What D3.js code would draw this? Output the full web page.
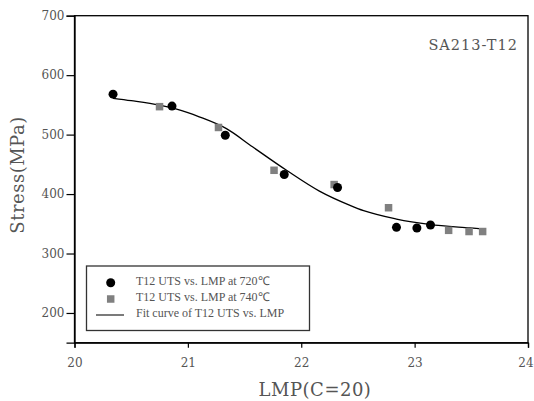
<!DOCTYPE html>
<html>
<head>
<meta charset="utf-8">
<script src="https://cdn.jsdelivr.net/npm/d3@7"></script>
<style>
  body { margin: 0; background: #fff; }
  svg { display: block; }
  .tick text { font-family: "DejaVu Serif", serif; font-size: 12px; fill: #555; }
</style>
</head>
<body>
<div id="chart"></div>
<script>
// data
const lmp720 = [20.34, 20.86, 21.33, 21.85, 22.32, 22.84, 23.02, 23.14];
const uts720 = [568, 548, 499, 433, 411, 344, 343, 348];
const lmp740 = [20.75, 21.27, 21.76, 22.29, 22.77, 23.30, 23.48, 23.60];
const uts740 = [547, 512, 440, 416, 377, 339, 337, 337];
const fitX = [20.34, 20.5, 20.75, 21.0, 21.1, 21.34, 21.57, 21.87, 22.16, 22.43, 22.55, 22.84, 23.13, 23.49, 23.62];
const fitY = [561, 557, 549.5, 537, 530, 510, 479.5, 440, 405, 381, 372, 358, 349, 343, 341];
const xTicks = [20, 21, 22, 23, 24];
const yTicks = [200, 300, 400, 500, 600, 700];
const legendLabels = ["T12 UTS vs. LMP at 720\u2103", "T12 UTS vs. LMP at 740\u2103", "Fit curve of T12 UTS vs. LMP"];

const width = 534, height = 401;
const area = { left: 74.5, right: 528, top: 15.7, bottom: 342.7 };

const svg = d3.select('#chart').append('svg')
    .attr('width', width)
    .attr('height', height);

const x = d3.scaleLinear().domain([20, 24]).range([area.left, area.right]);
const y = d3.scaleLinear().domain([150, 700]).range([area.bottom, area.top]);

// frame
svg.append('rect')
    .attr('x', area.left).attr('y', area.top)
    .attr('width', area.right - area.left).attr('height', area.bottom - area.top)
    .attr('fill', 'none').attr('stroke', '#000').attr('stroke-width', 1.3);

// axes
const xAxis = svg.append('g')
    .attr('transform', `translate(0,${area.bottom})`)
    .call(d3.axisBottom(x).tickValues(xTicks).tickSize(5).tickPadding(11).tickFormat(d3.format('d')));
const yAxis = svg.append('g')
    .attr('transform', `translate(${area.left},0)`)
    .call(d3.axisLeft(y).tickValues(yTicks).tickSize(8).tickPadding(2).tickFormat(d3.format('d')));

[xAxis, yAxis].forEach(g => {
    g.select('.domain').attr('stroke', '#000').attr('stroke-width', 1.3);
    g.selectAll('.tick line').attr('stroke', '#000').attr('stroke-width', 1.2);
});
// last label sits at the window edge; nudge it inside
xAxis.selectAll('.tick text').filter(d => d === 24).attr('dx', -2.5);

// axis titles
svg.append('text')
    .attr('transform', `translate(24,175) rotate(-90)`)
    .attr('text-anchor', 'middle')
    .style('font-family', '"DejaVu Serif", serif')
    .style('font-size', '18px')
    .style('letter-spacing', '0.5px')
    .attr('fill', '#555')
    .text('Stress(MPa)');

svg.append('text')
    .attr('x', 315).attr('y', 396)
    .attr('text-anchor', 'middle')
    .style('font-family', '"DejaVu Serif", serif')
    .style('font-size', '18px')
    .style('letter-spacing', '0.5px')
    .attr('fill', '#555')
    .text('LMP(C=20)');

svg.append('text')
    .attr('x', 518).attr('y', 50)
    .attr('text-anchor', 'end')
    .style('font-family', '"DejaVu Serif", serif')
    .style('font-size', '14.5px')
    .style('letter-spacing', '1px')
    .attr('fill', '#555')
    .text('SA213-T12');

// fit curve
const fit = fitX.map((d, i) => [d, fitY[i]]);
svg.append('path')
    .datum(fit)
    .attr('fill', 'none')
    .attr('stroke', '#000')
    .attr('stroke-width', 1.3)
    .attr('d', d3.line().x(d => x(d[0])).y(d => y(d[1])).curve(d3.curveMonotoneX));

// 740 squares
const sq = 7.5;
svg.append('g').selectAll('rect')
    .data(lmp740.map((d, i) => [d, uts740[i]]))
    .join('rect')
    .attr('x', d => x(d[0]) - sq / 2)
    .attr('y', d => y(d[1]) - sq / 2)
    .attr('width', sq).attr('height', sq)
    .attr('fill', '#808080');

// 720 circles
svg.append('g').selectAll('circle')
    .data(lmp720.map((d, i) => [d, uts720[i]]))
    .join('circle')
    .attr('cx', d => x(d[0]))
    .attr('cy', d => y(d[1]))
    .attr('r', 4.5)
    .attr('fill', '#000');

// legend
const lg = svg.append('g');
lg.append('rect')
    .attr('x', 86.5).attr('y', 266)
    .attr('width', 223).attr('height', 64.5)
    .attr('fill', '#fff').attr('stroke', '#333').attr('stroke-width', 1.3);
lg.append('circle').attr('cx', 110.7).attr('cy', 282.7).attr('r', 4.5).attr('fill', '#000');
lg.append('rect').attr('x', 110.7 - sq / 2).attr('y', 299 - sq / 2).attr('width', sq).attr('height', sq).attr('fill', '#808080');
lg.append('line').attr('x1', 96).attr('x2', 124).attr('y1', 315).attr('y2', 315)
    .attr('stroke', '#333').attr('stroke-width', 1.3);
lg.selectAll('text.lab')
    .data(legendLabels)
    .join('text')
    .attr('class', 'lab')
    .attr('x', 136)
    .attr('y', (d, i) => 284.5 + i * 16)
    .style('font-family', '"Liberation Serif", serif')
    .style('font-size', '12px')
    .attr('fill', '#555')
    .text(d => d);
</script>
</body>
</html>
